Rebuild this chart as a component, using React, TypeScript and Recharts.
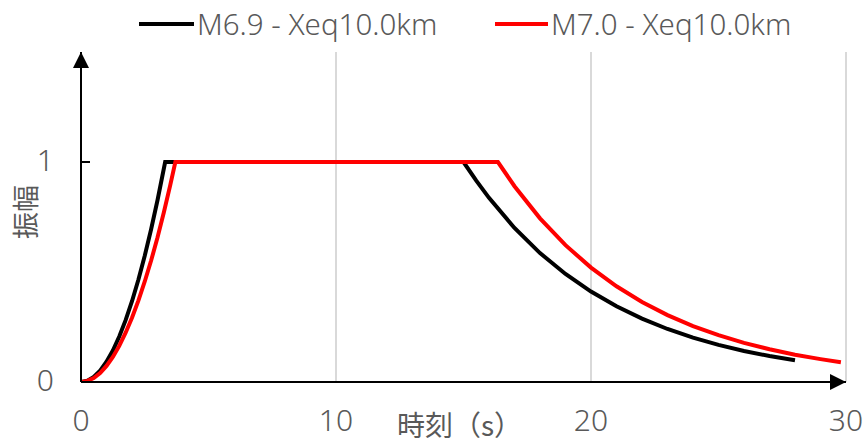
import React from "react";
import { LineChart, Line, XAxis, YAxis, CartesianGrid, Legend } from "recharts";

// M6.9 - Xeq10.0km (black)
const m69Times = [0, 0.25, 0.5, 0.75, 1, 1.25, 1.5, 1.75, 2, 2.25, 2.5, 2.75, 3, 3.3, 15.0, 15.5, 16, 17, 18, 19, 20, 21, 22, 23, 24, 25, 26, 27, 28];
const m69Amps = [0, 0.006, 0.023, 0.052, 0.092, 0.143, 0.207, 0.281, 0.367, 0.465, 0.574, 0.694, 0.826, 1, 1, 0.915, 0.837, 0.7, 0.586, 0.491, 0.411, 0.344, 0.288, 0.241, 0.202, 0.169, 0.141, 0.118, 0.099];

// M7.0 - Xeq10.0km (red)
const m70Times = [0, 0.25, 0.5, 0.75, 1, 1.25, 1.5, 1.75, 2, 2.25, 2.5, 2.75, 3, 3.25, 3.5, 3.7, 16.35, 17, 18, 19, 20, 21, 22, 23, 24, 25, 26, 27, 28, 29, 29.8];
const m70Amps = [0, 0.005, 0.018, 0.041, 0.073, 0.114, 0.164, 0.224, 0.292, 0.37, 0.457, 0.552, 0.657, 0.772, 0.895, 1, 1, 0.89, 0.744, 0.622, 0.52, 0.435, 0.364, 0.304, 0.254, 0.213, 0.178, 0.149, 0.124, 0.104, 0.09];

const seriesNames = ["M6.9 - Xeq10.0km", "M7.0 - Xeq10.0km"];
const seriesColors = ["#000000", "#ff0000"];
const xTicks = [0, 10, 20, 30];
const yTicks = [0, 1];
const xTitle = "時刻（s）";
const yTitle = "振幅";

const m69Data = m69Times.map((t, i) => ({ t, a: m69Amps[i] }));
const m70Data = m70Times.map((t, i) => ({ t, a: m70Amps[i] }));

const TEXT = "#595959";
const LATIN = "'Noto Sans', 'Noto Sans CJK JP', sans-serif";
const CJK = "'Noto Sans CJK JP', sans-serif";

const XTick = (props: any) => {
  const { x, y, payload } = props;
  return (
    <text x={x} y={y + 49} textAnchor="middle" fill={TEXT} fontSize={30} fontWeight={300} fontFamily={LATIN}>
      {payload.value}
    </text>
  );
};

const YTick = (props: any) => {
  const { x, y, payload } = props;
  return (
    <g>
      {payload.value !== 0 && <line x1={x} x2={x + 9} y1={y} y2={y} stroke="#000" strokeWidth={2} />}
      <text x={x - 27} y={y + 9} textAnchor="end" fill={TEXT} fontSize={30} fontWeight={300} fontFamily={LATIN}>
        {payload.value}
      </text>
    </g>
  );
};

const LegendContent = () => (
  <svg width={865} height={50} style={{ display: "block" }}>
    <line x1={139} x2={194} y1={24} y2={24} stroke={seriesColors[0]} strokeWidth={4} />
    <text x={197} y={35} fill={TEXT} fontSize={29.5} fontWeight={300} fontFamily={LATIN}>{seriesNames[0]}</text>
    <line x1={495} x2={548} y1={24} y2={24} stroke={seriesColors[1]} strokeWidth={4} />
    <text x={551} y={35} fill={TEXT} fontSize={29.5} fontWeight={300} fontFamily={LATIN}>{seriesNames[1]}</text>
  </svg>
);

const YLabel = (props: any) => {
  const { viewBox } = props;
  const cx = 24;
  const cy = viewBox.y + viewBox.height / 2 - 5;
  return (
    <text
      x={cx}
      y={cy}
      transform={`rotate(-90 ${cx} ${cy})`}
      textAnchor="middle"
      dominantBaseline="central"
      fill={TEXT}
      fontSize={27}
      fontFamily={CJK}
    >
      {yTitle}
    </text>
  );
};

const XLabel = (props: any) => {
  const { viewBox } = props;
  const cx = viewBox.x + viewBox.width / 2 - 4;
  return (
    <text x={cx} y={viewBox.y + 54} textAnchor="middle" fill={TEXT} fontSize={28} fontFamily={CJK}>
      {xTitle}
    </text>
  );
};

export default function App() {
  return (
    <div style={{ position: "absolute", left: 0, top: 0, width: 865, height: 446, background: "#fff" }}>
      <svg width={0} height={0} style={{ position: "absolute" }}>
        <defs>
          <marker
            id="axisArrow"
            viewBox="0 0 16 16"
            markerWidth={16}
            markerHeight={16}
            refX={16}
            refY={8}
            orient="auto-start-reverse"
            markerUnits="userSpaceOnUse"
          >
            <path d="M0,0 L16,8 L0,16 z" fill="#000" />
          </marker>
        </defs>
      </svg>
      <LineChart width={865} height={446} margin={{ top: 52, right: 19, bottom: 0, left: 0 }}>
        <CartesianGrid vertical horizontal={false} stroke="#d9d9d9" strokeWidth={2} />
        <XAxis
          type="number"
          dataKey="t"
          domain={[0, 30]}
          ticks={xTicks}
          allowDataOverflow
          height={64}
          tickSize={0}
          tickMargin={0}
          tickLine={false}
          tick={<XTick />}
          axisLine={{ stroke: "#000", strokeWidth: 2, markerEnd: "url(#axisArrow)" } as any}
          label={<XLabel />}
        />
        <YAxis
          type="number"
          dataKey="a"
          domain={[0, 1.5]}
          ticks={yTicks}
          allowDataOverflow
          width={81}
          tickSize={0}
          tickMargin={0}
          tickLine={false}
          tick={<YTick />}
          axisLine={{ stroke: "#000", strokeWidth: 2, markerStart: "url(#axisArrow)" } as any}
          label={<YLabel />}
        />
        <Legend
          layout="horizontal"
          verticalAlign="middle"
          align="center"
          wrapperStyle={{ top: 0, left: 0, width: 865, height: 50 }}
          content={<LegendContent />}
        />
        <Line
          data={m69Data}
          dataKey="a"
          name={seriesNames[0]}
          type="linear"
          stroke={seriesColors[0]}
          strokeWidth={4}
          dot={false}
          isAnimationActive={false}
        />
        <Line
          data={m70Data}
          dataKey="a"
          name={seriesNames[1]}
          type="linear"
          stroke={seriesColors[1]}
          strokeWidth={4}
          dot={false}
          isAnimationActive={false}
        />
      </LineChart>
    </div>
  );
}
